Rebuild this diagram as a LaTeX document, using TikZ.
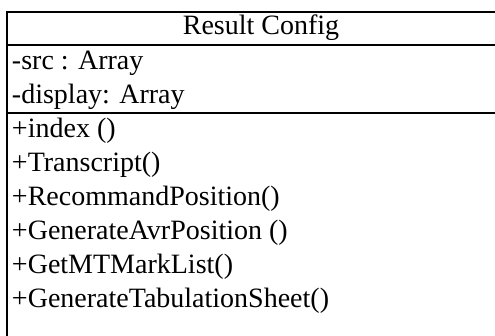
\documentclass[tikz,border=0pt]{standalone}
\usepackage{fontspec}
\setmainfont{Liberation Serif}
\begin{document}
\begin{tikzpicture}[x=1pt,y=-1pt,line width=2pt,
  umltext/.style={inner sep=0pt,font=\fontsize{28}{34}\selectfont},
  heading/.style={umltext,anchor=base},
  member/.style={umltext,anchor=base west},
  frame/.style={draw,line width=2pt,inner sep=0pt,anchor=north west,
    minimum width=520pt,minimum height=345pt}]
\useasboundingbox (0,0) rectangle (495,336);
\begin{scope}
  \clip (0,0) rectangle (495,336);
  % class box and compartment separators
  \node[frame] (cls) at (6,11) {};
  \coordinate (sepAw) at (6,45);   \coordinate (sepAe) at (526,45);
  \coordinate (sepBw) at (6,113);  \coordinate (sepBe) at (526,113);
  \draw (sepAw) -- (sepAe);
  \draw (sepBw) -- (sepBe);
\end{scope}
% class name
\node[heading] (name) at (261,35) {Result Config};
% attributes
\node[member] (attrSrc) at (11,70) {-src : Array};
\node[member] (attrDisplay) at (11,104) {-display: Array};
% operations
\node[member] (opIndex) at (11,138) {+index ()};
\node[member] (opTranscript) at (11,172) {+Transcript()};
\node[member] (opRecommand) at (11,206) {+RecommandPosition()};
\node[member] (opAvr) at (11,240) {+GenerateAvrPosition ()};
\node[member] (opMarks) at (11,274) {+GetMTMarkList()};
\node[member] (opSheet) at (11,308) {+GenerateTabulationSheet()};
\end{tikzpicture}
\end{document}
